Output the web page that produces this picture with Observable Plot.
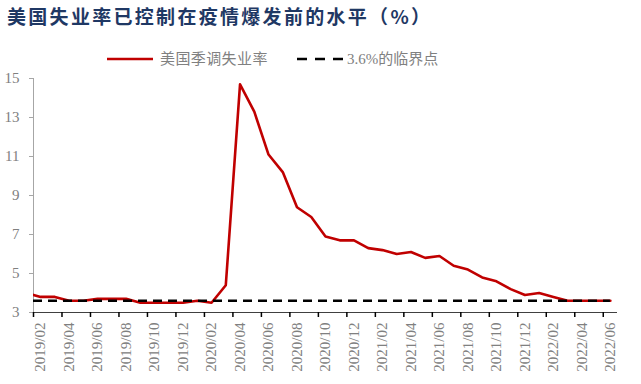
<!DOCTYPE html>
<html>
<head>
<meta charset="utf-8">
<script src="https://cdn.jsdelivr.net/npm/d3@7"></script>
<script src="https://cdn.jsdelivr.net/npm/@observablehq/plot@0.6"></script>
<style>
  html, body { margin: 0; padding: 0; background: #fff; }
  #wrap { position: relative; width: 641px; height: 384px; overflow: hidden; }
  #chart { position: absolute; left: 0; top: 0; }
  .title { position: absolute; left: 7px; top: 3px; font-family: "Noto Sans CJK SC", sans-serif; font-weight: bold; font-size: 19px; letter-spacing: 2.3px; color: #1F3864; white-space: nowrap; line-height: 26px; }
  .leg { position: absolute; font-family: "Noto Sans CJK SC", "Liberation Serif", serif; font-size: 15px; color: #808080; white-space: nowrap; line-height: 20px; }
  .sw { position: absolute; }
</style>
</head>
<body>
<div id="wrap">
  <div id="chart"></div>
  <div class="title">美国失业率已控制在疫情爆发前的水平（%）</div>
  <svg class="sw" style="left:107px; top:54px;" width="46" height="10"><line x1="0" x2="46" y1="5" y2="5" stroke="#C00000" stroke-width="2.6"/></svg>
  <div class="leg" style="left:160px; top:48px; letter-spacing:0.4px;">美国季调失业率</div>
  <svg class="sw" style="left:297px; top:54px;" width="46" height="10"><line x1="0" x2="46" y1="5" y2="5" stroke="#000" stroke-width="2.6" stroke-dasharray="10,8"/></svg>
  <div class="leg" style="left:347px; top:48px;"><span style="font-family:'Liberation Serif',serif;">3.6%</span>的临界点</div>
</div>
<script>
const months = [
  "2019/01","2019/02","2019/03","2019/04","2019/05","2019/06","2019/07","2019/08","2019/09","2019/10","2019/11","2019/12",
  "2020/01","2020/02","2020/03","2020/04","2020/05","2020/06","2020/07","2020/08","2020/09","2020/10","2020/11","2020/12",
  "2021/01","2021/02","2021/03","2021/04","2021/05","2021/06","2021/07","2021/08","2021/09","2021/10","2021/11","2021/12",
  "2022/01","2022/02","2022/03","2022/04","2022/05","2022/06"
];
const rate = [
  4.0, 3.8, 3.8, 3.6, 3.6, 3.7, 3.7, 3.7, 3.5, 3.5, 3.5, 3.5,
  3.6, 3.5, 4.4, 14.7, 13.3, 11.1, 10.2, 8.4, 7.9, 6.9, 6.7, 6.7,
  6.3, 6.2, 6.0, 6.1, 5.8, 5.9, 5.4, 5.2, 4.8, 4.6, 4.2, 3.9,
  4.0, 3.8, 3.6, 3.6, 3.6, 3.6
];
const threshold = 3.6;
const yTicks = [3, 5, 7, 9, 11, 13, 15];

// x position: index relative to the first labelled month (2019/02)
const data = months.map((m, k) => ({m, i: k - 1, v: rate[k]}));
const lastIdx = months.length - 2;
const tickPos = d3.range(-0.5, lastIdx, 2);
const labelIdx = d3.range(0, lastIdx + 1, 2);

const chart = Plot.plot({
  width: 641,
  height: 384,
  marginLeft: 33,
  marginRight: 24,
  marginTop: 78,
  marginBottom: 72,
  style: {fontFamily: "'Liberation Serif', 'Times New Roman', serif", background: "#fff"},
  x: {type: "linear", domain: [-0.5, lastIdx + 0.5], axis: null, label: null},
  y: {domain: [3, 15], axis: null, label: null},
  marks: [
    Plot.axisY({ticks: yTicks, label: null, tickSize: 4, tickPadding: 10, fontSize: 15, color: "#808080", stroke: "#a6a6a6"}),
    Plot.ruleX([-0.5], {y1: 3, y2: 15, stroke: "#a6a6a6", strokeWidth: 1}),
    Plot.lineY(data, {x: "i", y: "v", stroke: "#C00000", strokeWidth: 2.6, clip: true}),
    Plot.ruleY([threshold], {x1: -0.5, x2: lastIdx, stroke: "#000", strokeWidth: 2.6, strokeDasharray: "9,6"}),
    Plot.ruleY([3], {x1: -0.5, x2: lastIdx + 0.5, stroke: "#404040", strokeWidth: 1.2}),
    Plot.axisX({ticks: tickPos, label: null, tickSize: 5, tickFormat: () => "", stroke: "#000", strokeWidth: 1.5}),
    Plot.axisX({ticks: labelIdx, label: null, tickSize: 0, tickPadding: 10, tickRotate: -90, fontSize: 15, fill: "#808080",
      tickFormat: i => months[i + 1]})
  ]
});
document.getElementById("chart").appendChild(chart);
</script>
</body>
</html>
